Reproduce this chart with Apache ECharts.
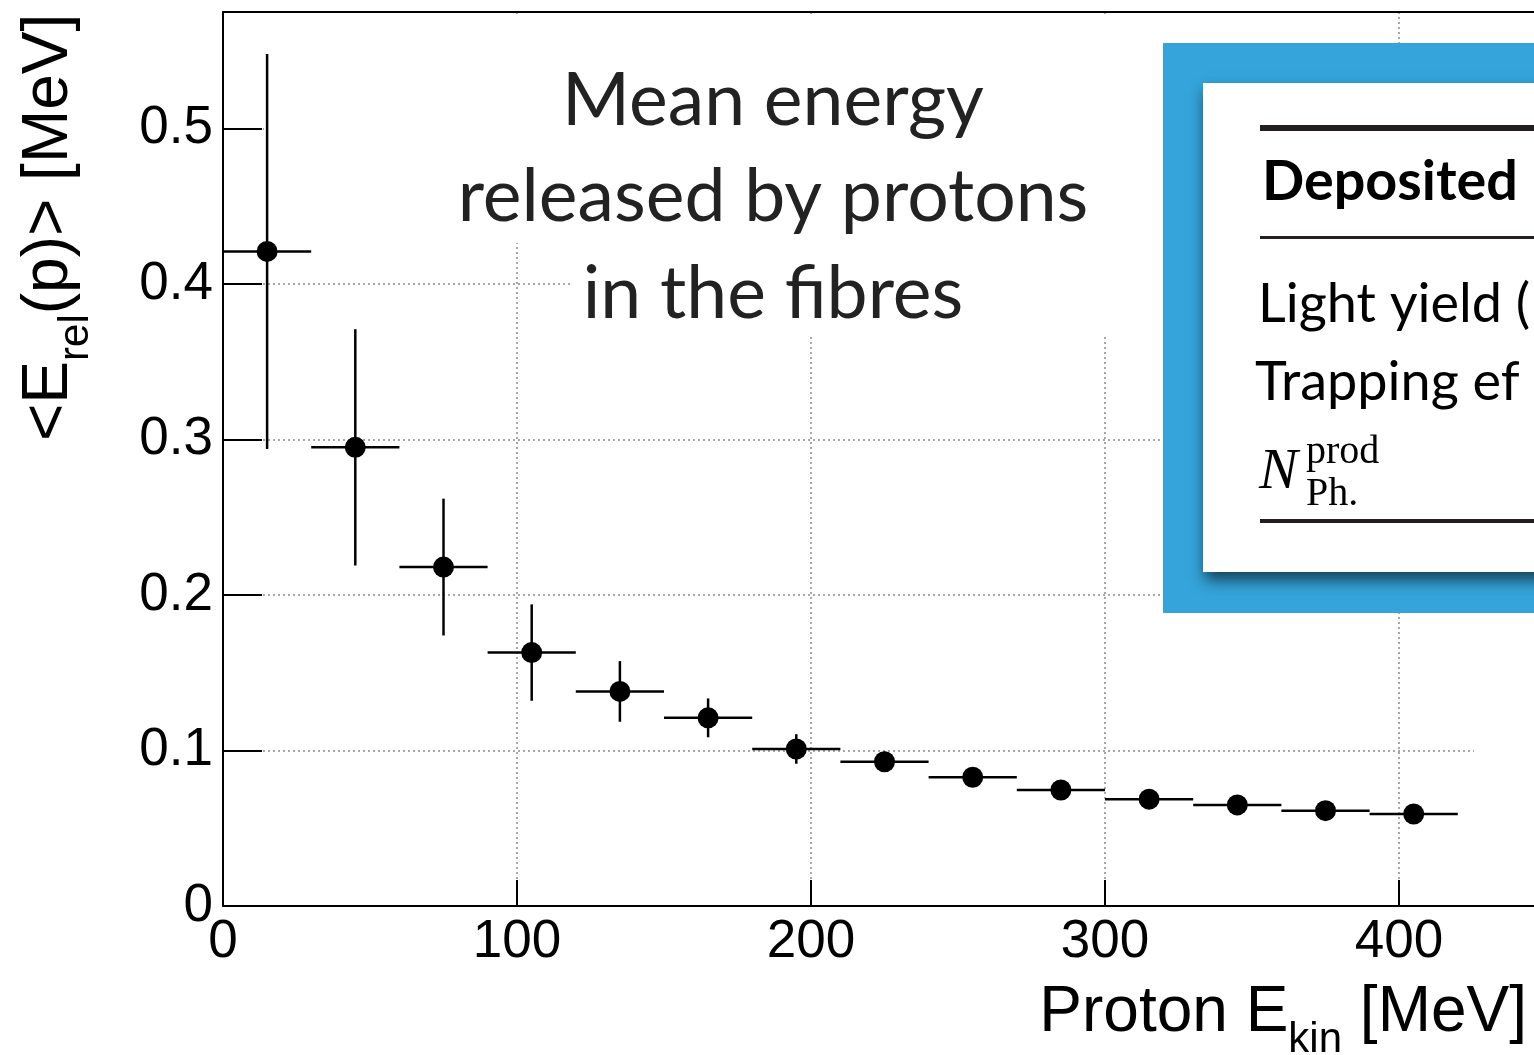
<!DOCTYPE html>
<html><head><meta charset="utf-8">
<script src="https://cdn.jsdelivr.net/npm/echarts@6/dist/echarts.min.js"></script>
<style>html,body{margin:0;padding:0;background:#fff;overflow:hidden}#c{width:1534px;height:1055px}</style>
</head><body><div id="c"></div>
<script>
// ---- data ----
const binCenters = [15, 45, 75, 105, 135, 165, 195, 225, 255, 285, 315, 345, 375, 405];
const binHalfWidths = [15, 15, 15, 15, 15, 15, 15, 15, 15, 15, 15, 15, 15, 15];
const meanEnergy = [0.421, 0.295, 0.218, 0.163, 0.138, 0.121, 0.101, 0.0928, 0.0828, 0.0746, 0.0687, 0.065, 0.0613, 0.0592];
const meanEnergyErr = [0.127, 0.076, 0.044, 0.031, 0.0195, 0.0125, 0.0095, 0.0065, 0.004, 0.003, 0.003, 0.002, 0.002, 0.002];
const xTickLabels = ['0', '100', '200', '300', '400', '500'];
const yTickLabels = ['0', '0.1', '0.2', '0.3', '0.4', '0.5'];
const titleLines = ['Mean energy', 'released by protons', 'in the fibres'];
const tableHeader = 'Deposited';
const tableRows = ['Light yield (', 'Trapping ef'];
const tableSymbol = ['N', 'prod', 'Ph.'];
const xTitle = ['Proton E', 'kin', ' [MeV]'];
const yTitle = ['<E', 'rel', '(p)> [MeV]'];

// ---- helpers ----
const mctx = document.createElement('canvas').getContext('2d');
function tw(font, s) { mctx.font = font; mctx.textBaseline = 'alphabetic'; return mctx.measureText(s).width; }
// y of the 'middle' line so that the alphabetic baseline lands on `baseline`
function midY(font, baseline) {
  mctx.font = font; mctx.textBaseline = 'middle';
  const d = mctx.measureText('H').actualBoundingBoxDescent;
  mctx.textBaseline = 'alphabetic';
  return baseline - d;
}
function txt(x, baseline, s, font, fill, align, z) {
  return { type: 'text', x: x, y: midY(font, baseline), z: z || 100,
    style: { text: s, font: font, fill: fill || '#000', align: align || 'left', verticalAlign: 'middle' } };
}
function fitSize(family, weight, s, target) {
  const base = 100; const w = tw(weight + ' ' + base + 'px ' + family, s);
  return Math.round(base * target / w * 10) / 10;
}

const AX = 'Liberation Sans, Arial, sans-serif';
const fMain = '64px ' + AX, fSub = '42px ' + AX;
const LATO = 'Lato, sans-serif';
const titleSize = fitSize(LATO, 'normal', titleLines[1], 631);
const fTitle = titleSize + 'px ' + LATO;
const headSize = fitSize(LATO, 'bold', tableHeader, 256);
const rowSize = fitSize(LATO, 'normal', tableRows[0], 272);

// x title
const xw = xTitle.map((s, i) => tw(i === 1 ? fSub : fMain, s));
const xStart = 1527 - (xw[0] + xw[1] + xw[2]);
const xTitleEls = [
  txt(xStart, 1031, xTitle[0], fMain),
  txt(xStart + xw[0], 1052, xTitle[1], fSub),
  txt(xStart + xw[0] + xw[1], 1031, xTitle[2], fMain)
];
// y title (rotated group)
const yw = yTitle.map((s, i) => tw(i === 1 ? fSub : fMain, s));
const yTitleGroup = { type: 'group', x: 67, y: 441, rotation: Math.PI / 2, z: 100, children: [
  txt(0, 0, yTitle[0], fMain),
  txt(yw[0], 21, yTitle[1], fSub),
  txt(yw[0] + yw[1], 0, yTitle[2], fMain)
]};

const graphics = [
  // white boxes behind the title (hide grid lines)
  { type: 'rect', z: 1, shape: { x: 264, y: 15, width: 900, height: 228 }, style: { fill: '#fff' } },
  { type: 'rect', z: 1, shape: { x: 573, y: 243, width: 591, height: 94 }, style: { fill: '#fff' } },
  { type: 'rect', z: 1, shape: { x: 1474, y: 700, width: 60, height: 100 }, style: { fill: '#fff' } },
  txt(773, 125, titleLines[0], fTitle, '#222', 'center'),
  txt(773, 221, titleLines[1], fTitle, '#222', 'center'),
  txt(773, 318, titleLines[2], fTitle, '#222', 'center'),
  // table box
  { type: 'rect', z: 50, shape: { x: 1163, y: 43, width: 400, height: 570 }, style: { fill: '#34a4da' } },
  { type: 'rect', z: 51, shape: { x: 1203, y: 83, width: 400, height: 489 },
    style: { fill: '#fff', shadowBlur: 14, shadowOffsetX: 2, shadowOffsetY: 8, shadowColor: 'rgba(0,0,0,0.6)' } },
  { type: 'rect', z: 52, shape: { x: 1260, y: 125, width: 300, height: 6 }, style: { fill: '#231f20' } },
  { type: 'rect', z: 52, shape: { x: 1260, y: 236, width: 300, height: 3 }, style: { fill: '#231f20' } },
  { type: 'rect', z: 52, shape: { x: 1260, y: 519, width: 300, height: 4 }, style: { fill: '#231f20' } },
  txt(1262, 200, tableHeader, 'bold ' + headSize + 'px ' + LATO, '#000', 'left', 53),
  txt(1258, 322, tableRows[0], rowSize + 'px ' + LATO, '#000', 'left', 53),
  txt(1255, 400, tableRows[1], rowSize + 'px ' + LATO, '#000', 'left', 53),
  txt(1259, 488, tableSymbol[0], 'italic 58px Liberation Serif, serif', '#000', 'left', 53),
  txt(1306, 463, tableSymbol[1], '40px Liberation Serif, serif', '#000', 'left', 53),
  txt(1306, 505, tableSymbol[2], '40px Liberation Serif, serif', '#000', 'left', 53),
  yTitleGroup
].concat(xTitleEls);

const chart = echarts.init(document.getElementById('c'));
const gridStyle = { type: [2, 3], color: '#a8a8a8', width: 2 };
const axisLineStyle = { color: '#000', width: 2 };
chart.setOption({
  animation: false,
  backgroundColor: '#fff',
  grid: { left: 223, top: 12, width: 1470, height: 894, outerBoundsMode: 'none', containLabel: false },
  xAxis: [{
    type: 'value', min: 0, max: 500, interval: 100, position: 'bottom',
    axisLine: { show: true, onZero: false, lineStyle: axisLineStyle },
    axisTick: { show: true, inside: true, length: 26, lineStyle: axisLineStyle },
    axisLabel: { fontSize: 53, fontFamily: AX, color: '#000', margin: 10,
      formatter: v => xTickLabels[Math.round(v / 100)] ?? '' },
    splitLine: { show: true, lineStyle: gridStyle }
  }, {
    type: 'value', min: 0, max: 500, interval: 100, position: 'top', z: 1,
    axisLine: { show: true, onZero: false, lineStyle: axisLineStyle },
    axisTick: { show: false }, axisLabel: { show: false }, splitLine: { show: false }
  }],
  yAxis: {
    type: 'value', min: 0, max: 0.575, interval: 0.1,
    axisLine: { show: true, onZero: false, lineStyle: axisLineStyle },
    axisTick: { show: true, inside: true, length: 39, lineStyle: axisLineStyle },
    axisLabel: { fontSize: 53, fontFamily: AX, color: '#000', margin: 10, showMaxLabel: false,
      formatter: v => (Math.abs(v * 10 - Math.round(v * 10)) < 1e-6 ? (yTickLabels[Math.round(v * 10)] ?? '') : '') },
    splitLine: { show: true, lineStyle: gridStyle }
  },
  graphic: { elements: graphics },
  series: [{
    type: 'custom',
    z: 2,
    xAxisIndex: 0,
    data: binCenters.map((x, i) => [x, meanEnergy[i], binHalfWidths[i], meanEnergyErr[i]]),
    encode: { x: 0, y: 1 },
    renderItem: function (params, api) {
      const x = api.value(0), y = api.value(1), xe = api.value(2), ye = api.value(3);
      const pL = api.coord([x - xe, y]), pR = api.coord([x + xe, y]);
      const pT = api.coord([x, y + ye]), pB = api.coord([x, y - ye]);
      const c = api.coord([x, y]);
      const st = { stroke: '#000', lineWidth: 2.5 };
      return { type: 'group', children: [
        { type: 'line', shape: { x1: pL[0], y1: pL[1], x2: pR[0], y2: pR[1] }, style: st },
        { type: 'line', shape: { x1: pT[0], y1: pT[1], x2: pB[0], y2: pB[1] }, style: st },
        { type: 'circle', shape: { cx: c[0], cy: c[1], r: 10.5 }, style: { fill: '#000' } }
      ]};
    }
  }]
});
</script>
</body></html>
